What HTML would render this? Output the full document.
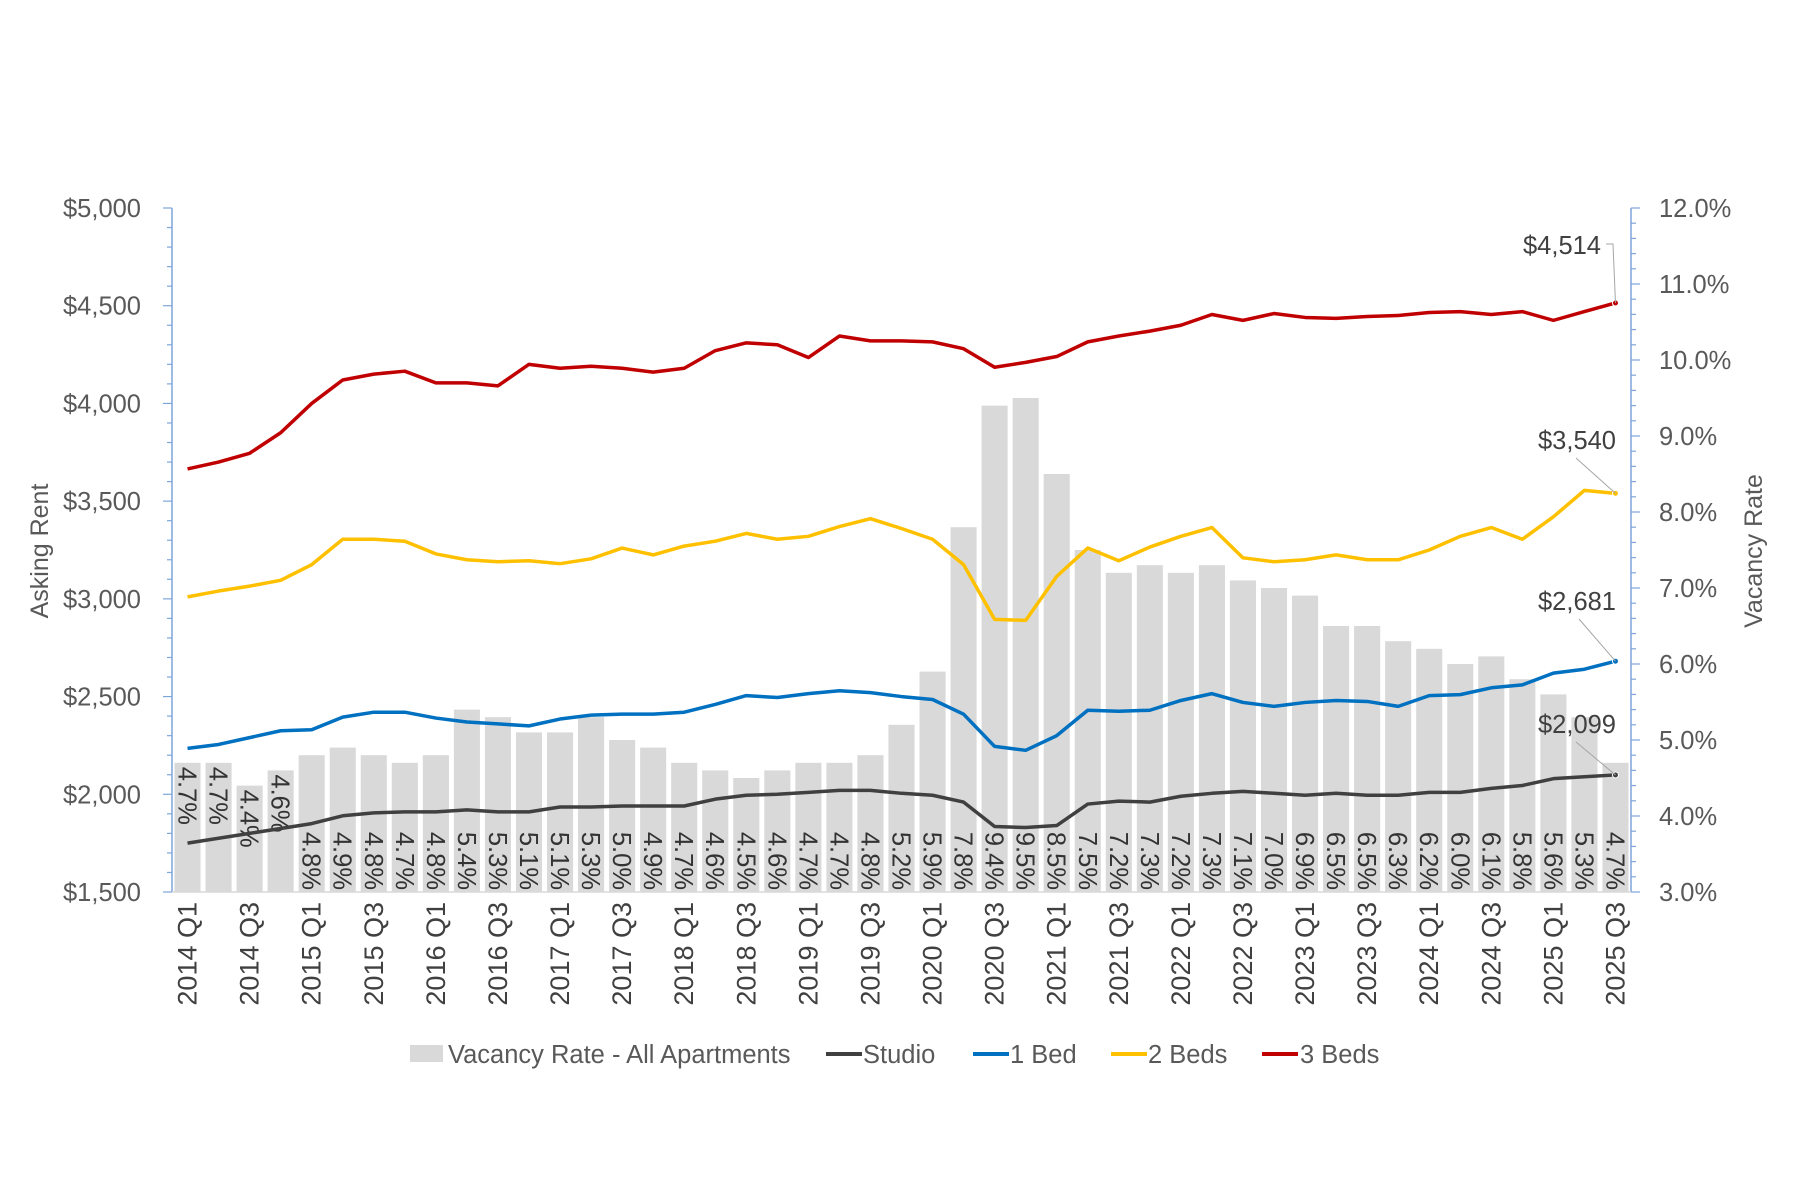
<!DOCTYPE html>
<html><head><meta charset="utf-8"><style>
html,body{margin:0;padding:0;background:#fff;}
svg{display:block;font-family:"Liberation Sans",Arial,sans-serif;}
</style></head><body>
<svg id="chart" width="1800" height="1200" viewBox="0 0 1800 1200" xmlns="http://www.w3.org/2000/svg">
<rect width="1800" height="1200" fill="#fff"/>
<g id="bars"></g>
<g id="barLabels"></g>
<g id="lines"></g>
<g id="axes"></g>
<g id="annot"></g>
<text transform="translate(48,551) rotate(-90)" text-anchor="middle" font-size="25" fill="#595959">Asking Rent</text>
<text transform="translate(1762,551) rotate(-90)" text-anchor="middle" font-size="25" fill="#595959">Vacancy Rate</text>
<g id="legend" font-size="25.5" fill="#595959">
  <g><rect x="410" y="1045" width="33" height="17" fill="#D9D9D9"/><text x="448" y="1063" fill="#595959">Vacancy Rate - All Apartments</text></g>
  <g><line x1="826" y1="1054" x2="862" y2="1054" stroke="#404040" stroke-width="4"/><text x="863" y="1063" fill="#595959">Studio</text></g>
  <g><line x1="973" y1="1054" x2="1009" y2="1054" stroke="#0070C0" stroke-width="4"/><text x="1010" y="1063" fill="#595959">1 Bed</text></g>
  <g><line x1="1111" y1="1054" x2="1147" y2="1054" stroke="#FFC000" stroke-width="4"/><text x="1148" y="1063" fill="#595959">2 Beds</text></g>
  <g><line x1="1262" y1="1054" x2="1298" y2="1054" stroke="#C00000" stroke-width="4"/><text x="1300" y="1063" fill="#595959">3 Beds</text></g>
</g>
</svg>
<script>
const categories = [];
for (let y = 2014; y <= 2025; y++) for (let q = 1; q <= 4; q++) { if (y === 2025 && q > 3) break; categories.push(y + ' Q' + q); }
const vacancy = [4.7,4.7,4.4,4.6,4.8,4.9,4.8,4.7,4.8,5.4,5.3,5.1,5.1,5.3,5.0,4.9,4.7,4.6,4.5,4.6,4.7,4.7,4.8,5.2,5.9,7.8,9.4,9.5,8.5,7.5,7.2,7.3,7.2,7.3,7.1,7.0,6.9,6.5,6.5,6.3,6.2,6.0,6.1,5.8,5.6,5.3,4.7];
const studio = [1750,1775,1800,1825,1850,1890,1905,1910,1910,1920,1910,1910,1935,1935,1940,1940,1940,1975,1995,2000,2010,2020,2020,2005,1995,1960,1835,1830,1840,1950,1965,1960,1990,2005,2015,2005,1995,2005,1995,1995,2010,2010,2030,2045,2080,2090,2099];
const bed1 = [2235,2255,2290,2325,2330,2395,2420,2420,2390,2370,2360,2350,2385,2405,2410,2410,2420,2460,2505,2495,2515,2530,2520,2500,2485,2410,2245,2225,2300,2430,2425,2430,2480,2515,2470,2450,2470,2480,2475,2450,2505,2510,2545,2560,2620,2640,2681];
const bed2 = [3010,3040,3065,3095,3175,3305,3305,3295,3230,3200,3190,3195,3180,3205,3260,3225,3270,3295,3335,3305,3320,3370,3410,3360,3305,3175,2895,2890,3115,3260,3195,3265,3320,3365,3210,3190,3200,3225,3200,3200,3250,3320,3365,3305,3420,3555,3540];
const bed3 = [3665,3700,3745,3850,4000,4120,4150,4165,4105,4105,4090,4200,4180,4190,4180,4160,4180,4270,4310,4300,4235,4345,4320,4320,4315,4280,4185,4210,4240,4315,4345,4370,4400,4455,4425,4460,4440,4435,4445,4450,4465,4470,4455,4470,4425,4470,4514];
const leftTicks = [1500,2000,2500,3000,3500,4000,4500,5000];
const rightTicks = [3,4,5,6,7,8,9,10,11,12];

const NS = 'http://www.w3.org/2000/svg';
const X0 = 172, X1 = 1631, YT = 208, YB = 892;
const band = (X1 - X0) / categories.length;
const xC = i => X0 + band * (i + 0.5);
const yL = v => YB - (v - 1500) / 3500 * (YB - YT);
const yR = v => YB - (v - 3) / 9 * (YB - YT);
function mk(tag, attrs, parent) { const e = document.createElementNS(NS, tag); for (const k in attrs) e.setAttribute(k, attrs[k]); parent.appendChild(e); return e; }
const gB = document.getElementById('bars'), gBL = document.getElementById('barLabels'), gL = document.getElementById('lines'), gA = document.getElementById('axes'), gN = document.getElementById('annot');

const bw = band * 0.84;
vacancy.forEach((v, i) => {
  const r = mk('rect', {x: xC(i) - bw / 2, y: yR(v), width: bw, height: YB - yR(v), fill: '#D9D9D9'}, gB);
  
  
  const top = i < 4;
  const t = mk('text', {transform: 'translate(' + (xC(i) - 9) + ',' + (top ? yR(v) + 4 : YB - 2) + ') rotate(90)', 'text-anchor': top ? 'start' : 'end', 'font-size': 25.5, fill: '#333333'}, gBL);
  t.textContent = v.toFixed(1) + '%';
  
  
});

function line(data, color, name) {
  const p = mk('polyline', {points: data.map((v, i) => xC(i) + ',' + yL(v)).join(' '), fill: 'none', stroke: color, 'stroke-width': 3.5, 'stroke-linejoin': 'round'}, gL);
  
  
  const n = data.length - 1;
  mk('circle', {cx: xC(n), cy: yL(data[n]), r: 3, fill: color, stroke: '#fff', 'stroke-width': 1}, gL);
}
line(studio, '#404040', 'studio-line');
line(bed1, '#0070C0', '1-bed-line');
line(bed2, '#FFC000', '2-beds-line');
line(bed3, '#C00000', '3-beds-line');

const ac = '#7FA6DA';
mk('line', {x1: X0, y1: YT, x2: X0, y2: YB, stroke: ac, 'stroke-width': 1.5}, gA);
mk('line', {x1: X1, y1: YT, x2: X1, y2: YB, stroke: ac, 'stroke-width': 1.5}, gA);
mk('line', {x1: X0, y1: YB, x2: X1, y2: YB, stroke: '#D9D9D9', 'stroke-width': 1.5}, gA);
for (let v = 1500; v <= 5000; v += 100) { const maj = v % 500 === 0; mk('line', {x1: X0 - (maj ? 9 : 5), y1: yL(v), x2: X0, y2: yL(v), stroke: ac, 'stroke-width': 1.2}, gA); }
for (let k = 0; k <= 45; k++) { const v = 3 + k * 0.2; const maj = k % 5 === 0; mk('line', {x1: X1, y1: yR(v), x2: X1 + (maj ? 9 : 5), y2: yR(v), stroke: ac, 'stroke-width': 1.2}, gA); }
leftTicks.forEach(v => { const t = mk('text', {x: 141, y: yL(v) + 9, 'text-anchor': 'end', 'font-size': 25.5, fill: '#595959'}, gA); t.textContent = '$' + v.toLocaleString('en-US');   });
rightTicks.forEach(v => { const t = mk('text', {x: 1659, y: yR(v) + 9, 'text-anchor': 'start', 'font-size': 25.5, fill: '#595959'}, gA); t.textContent = v.toFixed(1) + '%';   });
categories.forEach((c, i) => { if (i % 2) return; const t = mk('text', {transform: 'translate(' + (xC(i) + 9) + ',902) rotate(-90)', 'text-anchor': 'end', 'font-size': 27, fill: '#404040'}, gA); t.textContent = c;   });

const n = categories.length - 1;
function ann(val, tx, ty, lx) {
  const t = mk('text', {x: tx, y: ty, 'text-anchor': 'end', 'font-size': 25.5, fill: '#404040'}, gN);
  t.textContent = '$' + val.toLocaleString('en-US');
  
  
  mk('polyline', {points: lx + ' ' + xC(n) + ',' + yL(val), fill: 'none', stroke: '#A6A6A6', 'stroke-width': 1}, gN);
}
ann(bed3[n], 1601, 254, '1606,244 1613,244');
ann(bed2[n], 1616, 449, '1576,458');
ann(bed1[n], 1616, 610, '1579,619');
ann(studio[n], 1616, 733, '1576,742');
</script>
</body></html>
